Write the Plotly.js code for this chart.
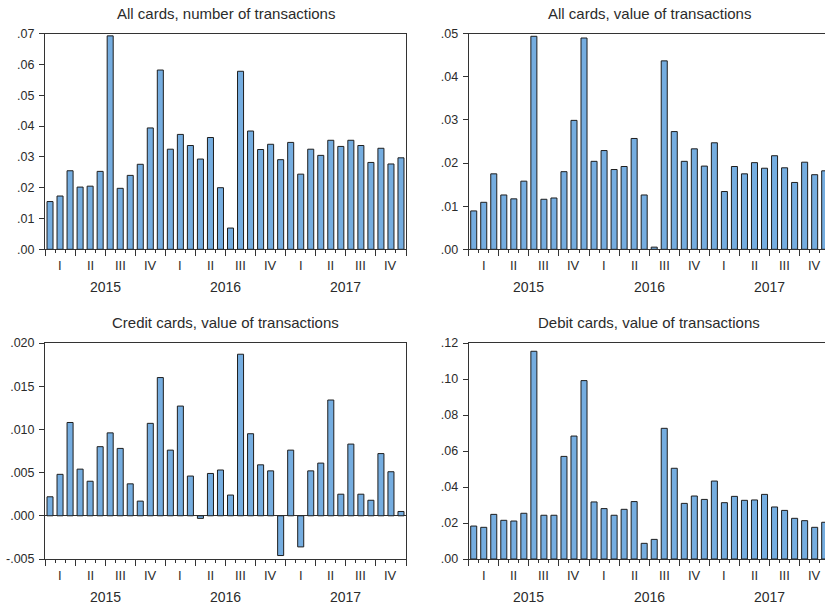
<!DOCTYPE html>
<html>
<head>
<meta charset="utf-8">
<script src="https://cdn.plot.ly/plotly-3.0.1.min.js"></script>
<style>
html,body{margin:0;padding:0;overflow:hidden;background:#fff;}
#chart{width:840px;height:605px;}
</style>
</head>
<body>
<div id="chart"></div>
<script>
// 36 monthly observations, Jan 2015 - Dec 2017
var months = [];
for (var i = 1; i <= 36; i++) months.push(i);

var quarterLabels = ["I","II","III","IV","I","II","III","IV","I","II","III","IV"];
var yearLabels = ["2015","2016","2017"];

var titles = [
  "All cards, number of transactions",
  "All cards, value of transactions",
  "Credit cards, value of transactions",
  "Debit cards, value of transactions"
];

var allNumber = [0.0155,0.0173,0.0255,0.0202,0.0205,0.0253,0.0693,0.0198,0.0240,0.0276,0.0394,0.0582,
                 0.0325,0.0373,0.0337,0.0293,0.0363,0.0200,0.0069,0.0578,0.0384,0.0324,0.0341,0.0291,
                 0.0347,0.0244,0.0325,0.0305,0.0354,0.0334,0.0354,0.0337,0.0282,0.0328,0.0277,0.0297];

var allValue = [0.0089,0.0109,0.0175,0.0126,0.0117,0.0158,0.0494,0.0116,0.0119,0.0180,0.0299,0.0490,
                0.0204,0.0229,0.0185,0.0192,0.0257,0.0126,0.0005,0.0437,0.0273,0.0204,0.0233,0.0193,
                0.0247,0.0134,0.0192,0.0175,0.0201,0.0188,0.0217,0.0189,0.0155,0.0202,0.0173,0.0182];

var creditValue = [0.0022,0.0048,0.0108,0.0054,0.0040,0.0080,0.0096,0.0078,0.0037,0.0017,0.0107,0.0160,
                   0.0076,0.0127,0.0046,-0.0003,0.0049,0.0053,0.0024,0.0187,0.0095,0.0059,0.0052,-0.0046,
                   0.0076,-0.0036,0.0052,0.0061,0.0134,0.0025,0.0083,0.0025,0.0018,0.0072,0.0051,0.0005];

var debitValue = [0.0183,0.0176,0.0248,0.0215,0.0211,0.0254,0.1154,0.0243,0.0243,0.0570,0.0683,0.0991,
                  0.0317,0.0280,0.0243,0.0276,0.0319,0.0087,0.0109,0.0726,0.0504,0.0309,0.0350,0.0331,
                  0.0433,0.0313,0.0348,0.0326,0.0328,0.0359,0.0289,0.0270,0.0226,0.0213,0.0176,0.0204];

var yTicks1 = [0,0.01,0.02,0.03,0.04,0.05,0.06,0.07];
var yText1 = [".00",".01",".02",".03",".04",".05",".06",".07"];
var yTicks2 = [0,0.01,0.02,0.03,0.04,0.05];
var yText2 = [".00",".01",".02",".03",".04",".05"];
var yTicks3 = [-0.005,0,0.005,0.010,0.015,0.020];
var yText3 = ["-.005",".000",".005",".010",".015",".020"];
var yTicks4 = [0,0.02,0.04,0.06,0.08,0.10,0.12];
var yText4 = [".00",".02",".04",".06",".08",".10",".12"];

var W = 840, H = 605;
var series = [allNumber, allValue, creditValue, debitValue];
var yRanges = [[0,0.07],[0,0.05],[-0.005,0.020],[0,0.12]];
var yTickVals = [yTicks1,yTicks2,yTicks3,yTicks4];
var yTickText = [yText1,yText2,yText3,yText4];

// pixel layout of the four panels
var xPix = [[45,406],[468.7,829.7],[45,406],[468.7,829.7]];
var yPix = [[33.7,249.3],[33.7,249.3],[343,559],[343,559]];

var quarterCenters = [], quarterBounds = [], monthBounds = [], yearCenters = [];
for (var q = 0; q < 12; q++) quarterCenters.push(q*3 + 2);
for (var q = 0; q <= 12; q++) quarterBounds.push(q*3 + 0.5);
for (var m = 0; m <= 36; m++) monthBounds.push(m + 0.5);
for (var y = 0; y < 3; y++) yearCenters.push(y*12 + 6.5);

var font = "Liberation Sans, Arial, sans-serif";
var txtColor = "#2b2b2b";
var lineColor = "#333333";

var data = [];
var layout = {
  width: W, height: H,
  margin: {l:0, r:0, t:0, b:0},
  paper_bgcolor: "#ffffff",
  plot_bgcolor: "#ffffff",
  showlegend: false,
  bargap: 0.4,
  font: {family: font, size: 12, color: txtColor},
  annotations: []
};

for (var p = 0; p < 4; p++) {
  var xn = p === 0 ? "x" : "x" + (p+1);
  var yn = p === 0 ? "y" : "y" + (p+1);
  var xk = p === 0 ? "xaxis" : "xaxis" + (p+1);
  var yk = p === 0 ? "yaxis" : "yaxis" + (p+1);
  data.push({
    type: "bar",
    x: months,
    y: series[p],
    xaxis: xn, yaxis: yn,
    width: 0.6,
    marker: {color: "#75ade0", line: {color: "#1e1e1e", width: 1}},
    hoverinfo: "x+y"
  });
  layout[xk] = {
    domain: [xPix[p][0]/W, xPix[p][1]/W],
    anchor: yn,
    range: [0.5, 36.5],
    showgrid: false, zeroline: false,
    showline: true, linecolor: lineColor, linewidth: 1, mirror: true,
    tickmode: "array", tickvals: quarterBounds, ticks: "outside",
    ticklen: 6, tickwidth: 1, tickcolor: lineColor,
    showticklabels: false,
    minor: {tickmode: "array", tickvals: monthBounds, ticks: "outside", ticklen: 3, tickwidth: 1, tickcolor: lineColor, showgrid: false},
    fixedrange: true
  };
  layout[yk] = {
    domain: [1 - yPix[p][1]/H, 1 - yPix[p][0]/H],
    anchor: xn,
    range: yRanges[p],
    showgrid: false,
    zeroline: p === 2, zerolinecolor: lineColor, zerolinewidth: 1,
    showline: true, linecolor: lineColor, linewidth: 1, mirror: true,
    tickmode: "array", tickvals: yTickVals[p], ticktext: yTickText[p],
    ticks: "outside", ticklen: 5, tickwidth: 1, tickcolor: lineColor,
    ticklabelstandoff: 2,
    tickfont: {family: font, size: 12.5, color: txtColor},
    fixedrange: true
  };
  // title
  layout.annotations.push({
    xref: xn + " domain", yref: "paper",
    x: 0.5, y: 1 - (yPix[p][0] - 20.5)/H,
    xanchor: "center", yanchor: "middle",
    text: titles[p], showarrow: false,
    font: {family: font, size: 15, color: txtColor}
  });
  // quarter labels
  for (var q = 0; q < 12; q++) {
    layout.annotations.push({
      xref: xn, yref: "paper",
      x: quarterCenters[q], y: 1 - (yPix[p][1] + 16)/H,
      xanchor: "center", yanchor: "middle",
      text: quarterLabels[q], showarrow: false,
      font: {family: font, size: 13, color: txtColor}
    });
  }
  // year labels
  for (var y = 0; y < 3; y++) {
    layout.annotations.push({
      xref: xn, yref: "paper",
      x: yearCenters[y], y: 1 - (yPix[p][1] + 38)/H,
      xanchor: "center", yanchor: "middle",
      text: yearLabels[y], showarrow: false,
      font: {family: font, size: 14, color: txtColor}
    });
  }
}

Plotly.newPlot("chart", data, layout, {displayModeBar: false, staticPlot: true});
</script>
</body>
</html>
